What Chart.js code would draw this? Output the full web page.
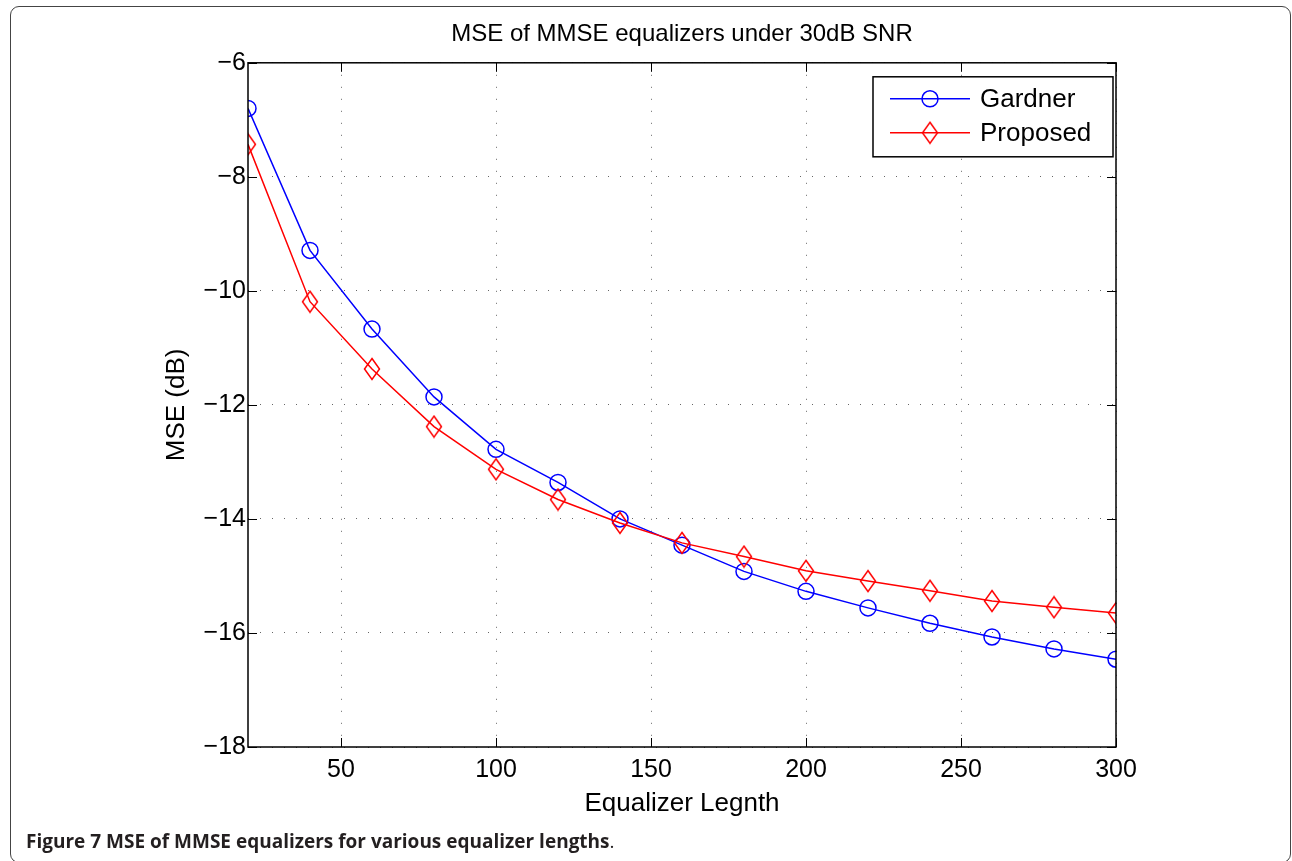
<!DOCTYPE html>
<html>
<head>
<meta charset="utf-8">
<title>MSE of MMSE equalizers</title>
<script src="https://cdn.jsdelivr.net/npm/chart.js@4.4.1/dist/chart.umd.min.js"></script>
<style>
  html, body { margin: 0; padding: 0; background: #fff; }
  body { width: 1292px; height: 861px; position: relative; overflow: hidden; }
  #frame {
    position: absolute; left: 10px; top: 6px; width: 1281px; height: 857px;
    box-sizing: border-box; border: 1.5px solid #444; border-radius: 9px;
  }
  #wrap { position: absolute; left: 0; top: 0; width: 1292px; height: 861px; }
  #caption {
    position: absolute; left: 26px; top: 830px; line-height: 22px;
    font-family: "Open Sans", sans-serif; font-size: 19px; font-weight: 700;
    color: #231f20; white-space: nowrap;
  }
  #caption span { font-weight: 400; }
</style>
</head>
<body>
<div id="frame"></div>
<div id="wrap"><canvas id="mse-canvas"></canvas></div>
<div id="caption">Figure 7 MSE of MMSE equalizers for various equalizer lengths<span>.</span></div>
<script>
// equalizer lengths (x) and MSE in dB
const lengths = [20, 40, 60, 80, 100, 120, 140, 160, 180, 200, 220, 240, 260, 280, 300]
const gardner = [-6.80, -9.29, -10.67, -11.86, -12.78, -13.36, -14.00, -14.46, -14.92, -15.27, -15.56, -15.83, -16.07, -16.28, -16.46]
const proposed = [-7.43, -10.19, -11.37, -12.38, -13.13, -13.66, -14.07, -14.42, -14.66, -14.91, -15.09, -15.26, -15.44, -15.55, -15.65]
const xTicks = [50, 100, 150, 200, 250, 300]
const yTicks = [-18, -16, -14, -12, -10, -8, -6]

const FONT = "'Liberation Sans', Arial, sans-serif"
const minus = v => String(v).replace('-', '\u2212')

// MATLAB style diamond marker (taller than wide)
function diamondMarker(color) {
  const c = document.createElement('canvas')
  c.width = 18
  c.height = 24
  const g = c.getContext('2d')
  g.strokeStyle = color
  g.lineWidth = 1.5
  g.beginPath()
  g.moveTo(9, 1.5)
  g.lineTo(16.5, 12)
  g.lineTo(9, 22.5)
  g.lineTo(1.5, 12)
  g.closePath()
  g.stroke()
  return c
}

function drawMarker(ctx, ds, x, y) {
  if (ds.pointStyle instanceof HTMLCanvasElement) {
    ctx.drawImage(ds.pointStyle, x - ds.pointStyle.width / 2, y - ds.pointStyle.height / 2)
  } else {
    ctx.beginPath()
    ctx.arc(x, y, ds.pointRadius, 0, Math.PI * 2)
    ctx.strokeStyle = ds.borderColor
    ctx.lineWidth = ds.pointBorderWidth
    ctx.stroke()
  }
}

// box around the axes with inward ticks, plus the legend
const matlabAxes = {
  id: 'matlabAxes',
  afterDraw(chart) {
    const {ctx, chartArea: a, scales} = chart
    ctx.save()
    ctx.strokeStyle = '#000'
    ctx.lineWidth = 1.5
    ctx.strokeRect(a.left, a.top, a.right - a.left, a.bottom - a.top)
    const tl = 9
    ctx.beginPath()
    xTicks.forEach(v => {
      const px = Math.round(scales.x.getPixelForValue(v)) + 0.5
      ctx.moveTo(px, a.bottom); ctx.lineTo(px, a.bottom - tl)
      ctx.moveTo(px, a.top); ctx.lineTo(px, a.top + tl)
    })
    yTicks.forEach(v => {
      const py = Math.round(scales.y.getPixelForValue(v)) + 0.5
      ctx.moveTo(a.left, py); ctx.lineTo(a.left + tl, py)
      ctx.moveTo(a.right, py); ctx.lineTo(a.right - tl, py)
    })
    ctx.lineWidth = 1
    ctx.stroke()

    // legend
    const bw = 240, bh = 80
    const bx = a.right - 243, by = a.top + 14
    ctx.fillStyle = '#fff'
    ctx.fillRect(bx, by, bw, bh)
    ctx.lineWidth = 1.5
    ctx.strokeStyle = '#000'
    ctx.strokeRect(bx, by, bw, bh)
    ctx.font = '26px ' + FONT
    ctx.textBaseline = 'middle'
    chart.data.datasets.forEach((ds, i) => {
      const y = by + 22 + i * 34
      ctx.beginPath()
      ctx.moveTo(bx + 17, y)
      ctx.lineTo(bx + 97, y)
      ctx.strokeStyle = ds.borderColor
      ctx.lineWidth = ds.borderWidth
      ctx.stroke()
      drawMarker(ctx, ds, bx + 57, y)
      ctx.fillStyle = '#000'
      ctx.fillText(ds.label, bx + 107, y + 1)
    })
    ctx.restore()
  }
}

const ctx = document.getElementById('mse-canvas')
new Chart(ctx, {
  type: 'line',
  data: {
    datasets: [{
      label: 'Gardner',
      data: lengths.map((x, i) => ({x: x, y: gardner[i]})),
      borderColor: '#0000ff',
      borderWidth: 1.5,
      pointStyle: 'circle',
      pointRadius: 8,
      pointBorderWidth: 1.5,
      pointBackgroundColor: 'rgba(0,0,0,0)',
      pointBorderColor: '#0000ff',
      order: 1
    }, {
      label: 'Proposed',
      data: lengths.map((x, i) => ({x: x, y: proposed[i]})),
      borderColor: '#ff0000',
      borderWidth: 1.5,
      pointStyle: diamondMarker('#ff0000'),
      pointRadius: 11,
      pointBorderWidth: 1.5,
      order: 0
    }]
  },
  options: {
    responsive: true,
    maintainAspectRatio: false,
    animation: false,
    events: [],
    layout: {
      padding: {left: 0, right: 176, top: 0, bottom: 0}
    },
    plugins: {
      legend: { display: false },
      tooltip: { enabled: false },
      title: {
        display: true,
        fullSize: false,
        text: 'MSE of MMSE equalizers under 30dB SNR',
        color: '#000',
        font: { family: FONT, size: 24, weight: 'normal' },
        padding: { top: 20, bottom: 14 }
      }
    },
    scales: {
      x: {
        type: 'linear',
        min: 20,
        max: 300,
        afterBuildTicks: s => { s.ticks = xTicks.map(v => ({value: v})) },
        afterFit: s => { s.height = 114 },
        ticks: {
          color: '#000',
          padding: 8,
          font: { family: FONT, size: 25 },
          maxRotation: 0
        },
        grid: { color: 'rgba(0,0,0,0.6)', lineWidth: 1, drawTicks: false },
        border: { display: false, dash: [1, 11] },
        title: {
          display: true,
          text: 'Equalizer Legnth',
          color: '#000',
          font: { family: FONT, size: 26 },
          padding: { top: 0, bottom: 42 }
        }
      },
      y: {
        min: -18,
        max: -6,
        afterBuildTicks: s => { s.ticks = yTicks.map(v => ({value: v})) },
        afterFit: s => { s.width = 248 },
        ticks: {
          color: '#000',
          padding: 2,
          font: { family: FONT, size: 25 },
          callback: v => minus(v)
        },
        grid: { color: 'rgba(0,0,0,0.6)', lineWidth: 1, drawTicks: false },
        border: { display: false, dash: [1, 11] },
        title: {
          display: true,
          text: 'MSE (dB)',
          color: '#000',
          font: { family: FONT, size: 26 },
          padding: { top: 161, bottom: 0 }
        }
      }
    }
  },
  plugins: [matlabAxes]
})
</script>
</body>
</html>
